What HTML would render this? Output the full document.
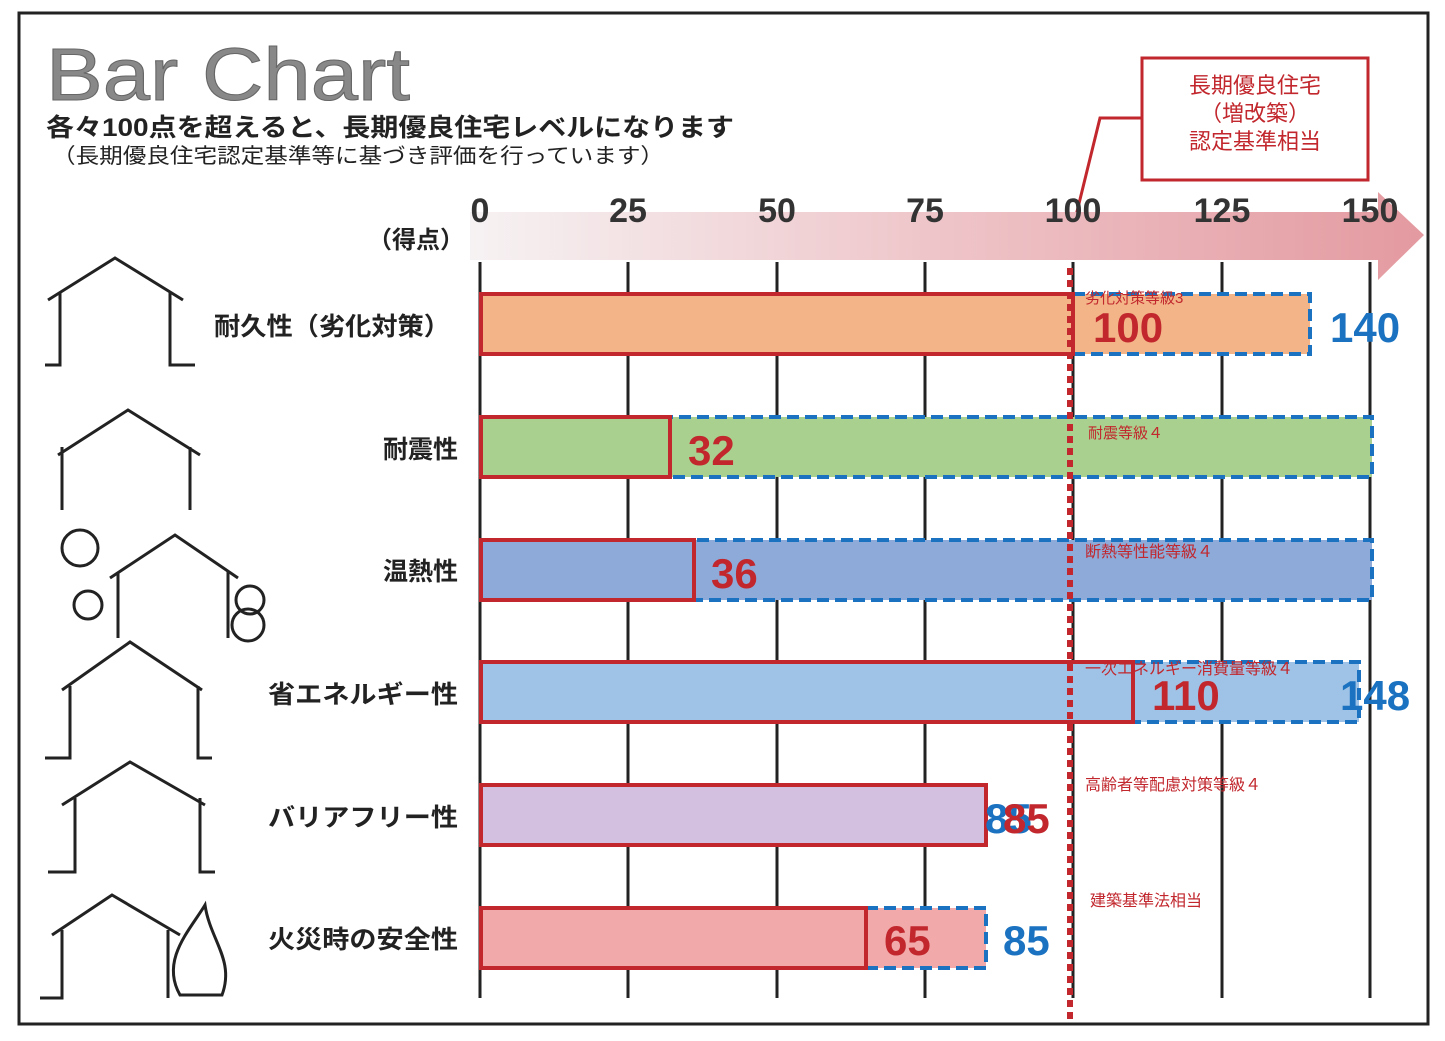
<!DOCTYPE html>
<html><head><meta charset="utf-8"><style>
html,body{margin:0;padding:0;background:#fff;}
svg{display:block;}
text{font-family:"Liberation Sans","Noto Sans CJK JP",sans-serif;}
</style></head><body>
<svg width="1445" height="1041" viewBox="0 0 1445 1041" xmlns="http://www.w3.org/2000/svg">
<defs>
<linearGradient id="ag" x1="0" x2="1" y1="0" y2="0">
<stop offset="0" stop-color="#f6f2f3"/>
<stop offset="0.5" stop-color="#eec4c8"/>
<stop offset="1" stop-color="#e39aa0"/>
</linearGradient>
</defs>
<rect x="19" y="13" width="1409" height="1011" fill="#fff" stroke="#222" stroke-width="3"/>
<text x="46" y="100" font-size="74" fill="#888" stroke="#666" stroke-width="1" textLength="364" lengthAdjust="spacingAndGlyphs">Bar Chart</text>
<text x="46" y="136" font-size="25" font-weight="bold" fill="#222" textLength="688" lengthAdjust="spacingAndGlyphs">各々100点を超えると、長期優良住宅レベルになります</text>
<text x="52" y="163" font-size="21" fill="#222" textLength="612" lengthAdjust="spacingAndGlyphs">（長期優良住宅認定基準等に基づき評価を行っています）</text>
<rect x="1142" y="58" width="226" height="122" fill="#fff" stroke="#c1272d" stroke-width="3"/>
<text x="1255" y="93" font-size="22" fill="#c1272d" text-anchor="middle">長期優良住宅</text>
<text x="1255" y="121" font-size="22" fill="#c1272d" text-anchor="middle">（増改築）</text>
<text x="1255" y="149" font-size="22" fill="#c1272d" text-anchor="middle">認定基準相当</text>
<polyline points="1142,118 1100,118 1072,232" fill="none" stroke="#c1272d" stroke-width="3"/>
<polygon points="470,212 1378,212 1378,192 1424,235 1378,280 1378,260 470,260" fill="url(#ag)"/>
<g font-size="34" font-weight="bold" fill="#333" text-anchor="middle">
<text x="480" y="222">0</text><text x="628" y="222">25</text><text x="777" y="222">50</text><text x="925" y="222">75</text><text x="1073" y="222">100</text><text x="1222" y="222">125</text><text x="1370" y="222">150</text>
</g>
<text x="368" y="248" font-size="24" font-weight="bold" fill="#222">（得点）</text>
<g stroke="#222" stroke-width="3">
<line x1="480" y1="262" x2="480" y2="998"/><line x1="628" y1="262" x2="628" y2="998"/><line x1="777" y1="262" x2="777" y2="998"/><line x1="925" y1="262" x2="925" y2="998"/><line x1="1073" y1="262" x2="1073" y2="998"/><line x1="1222" y1="262" x2="1222" y2="998"/><line x1="1370" y1="262" x2="1370" y2="998"/>
</g>
<rect x="1073" y="294" width="237" height="60" fill="#f3b488" stroke="#1a72c0" stroke-width="4" stroke-dasharray="12,6"/>
<rect x="481" y="294" width="592" height="60" fill="#f3b488" stroke="#c1272d" stroke-width="4"/>
<text x="1085" y="303" font-size="15" fill="#c1272d">劣化対策等級3</text>
<text x="1093" y="342" font-size="42" font-weight="bold" fill="#c1272d">100</text>
<text x="1330" y="342" font-size="42" font-weight="bold" fill="#1a72c0">140</text>
<rect x="481" y="417" width="891" height="60" fill="#a9d08e" stroke="#1a72c0" stroke-width="4" stroke-dasharray="12,6"/>
<rect x="481" y="417" width="189" height="60" fill="#a9d08e" stroke="#c1272d" stroke-width="4"/>
<text x="1088" y="438" font-size="15" fill="#c1272d">耐震等級４</text>
<text x="688" y="465" font-size="42" font-weight="bold" fill="#c1272d">32</text>
<rect x="481" y="540" width="891" height="60" fill="#8eaad8" stroke="#1a72c0" stroke-width="4" stroke-dasharray="12,6"/>
<rect x="481" y="540" width="213" height="60" fill="#8eaad8" stroke="#c1272d" stroke-width="4"/>
<text x="1085" y="557" font-size="16" fill="#c1272d">断熱等性能等級４</text>
<text x="711" y="588" font-size="42" font-weight="bold" fill="#c1272d">36</text>
<rect x="1133" y="662" width="226" height="60" fill="#9fc3e6" stroke="#1a72c0" stroke-width="4" stroke-dasharray="12,6"/>
<rect x="481" y="662" width="652" height="60" fill="#9fc3e6" stroke="#c1272d" stroke-width="4"/>
<text x="1085" y="674" font-size="16" fill="#c1272d">一次エネルギー消費量等級４</text>
<text x="1152" y="710" font-size="42" font-weight="bold" fill="#c1272d">110</text>
<text x="1340" y="710" font-size="42" font-weight="bold" fill="#1a72c0">148</text>
<rect x="481" y="785" width="505" height="60" fill="#d3bfdf" stroke="#c1272d" stroke-width="4"/>
<text x="1085" y="790" font-size="16" fill="#c1272d">高齢者等配慮対策等級４</text>
<text x="985" y="833" font-size="42" font-weight="bold" fill="#1a72c0">85</text>
<text x="1003" y="833" font-size="42" font-weight="bold" fill="#c1272d">85</text>
<rect x="866" y="908" width="120" height="60" fill="#f1a9a9" stroke="#1a72c0" stroke-width="4" stroke-dasharray="12,6"/>
<rect x="481" y="908" width="385" height="60" fill="#f1a9a9" stroke="#c1272d" stroke-width="4"/>
<text x="1090" y="906" font-size="16" fill="#c1272d">建築基準法相当</text>
<text x="884" y="955" font-size="42" font-weight="bold" fill="#c1272d">65</text>
<text x="1003" y="955" font-size="42" font-weight="bold" fill="#1a72c0">85</text>
<line x1="1070" y1="268" x2="1070" y2="1022" stroke="#c1272d" stroke-width="6" stroke-dasharray="7,5"/>
<g font-size="25" font-weight="bold" fill="#222" text-anchor="end">
<text x="450" y="335" textLength="236" lengthAdjust="spacingAndGlyphs">耐久性（劣化対策）</text>
<text x="458" y="458">耐震性</text>
<text x="458" y="580">温熱性</text>
<text x="458" y="703" textLength="190" lengthAdjust="spacingAndGlyphs">省エネルギー性</text>
<text x="458" y="826" textLength="190" lengthAdjust="spacingAndGlyphs">バリアフリー性</text>
<text x="458" y="948" textLength="190" lengthAdjust="spacingAndGlyphs">火災時の安全性</text>
</g>
<g fill="none" stroke="#222" stroke-width="3">
<polyline points="48,300 115,258 183,300"/><polyline points="60,292 60,365 45,365"/><polyline points="170,292 170,365 195,365"/>
<polyline points="58,455 128,410 200,455"/><polyline points="62,447 62,510"/><polyline points="190,447 190,510"/>
<polyline points="110,578 175,535 238,578"/><polyline points="118,572 118,638"/><polyline points="228,572 228,638"/>
<circle cx="80" cy="548" r="18"/><circle cx="88" cy="605" r="14"/><circle cx="250" cy="600" r="14"/><circle cx="248" cy="625" r="16"/>
<polyline points="62,690 130,642 202,690"/><polyline points="70,686 70,758 45,758"/><polyline points="198,686 198,758 212,758"/>
<polyline points="62,805 130,762 205,805"/><polyline points="75,798 75,872 48,872"/><polyline points="200,798 200,872 215,872"/>
<polyline points="52,935 112,895 180,935"/><polyline points="62,930 62,998 40,998"/><polyline points="168,930 168,998"/>
<path d="M180,995 C160,960 190,930 205,905 C210,940 235,960 222,995 Z"/>
</g>
</svg>
</body></html>
